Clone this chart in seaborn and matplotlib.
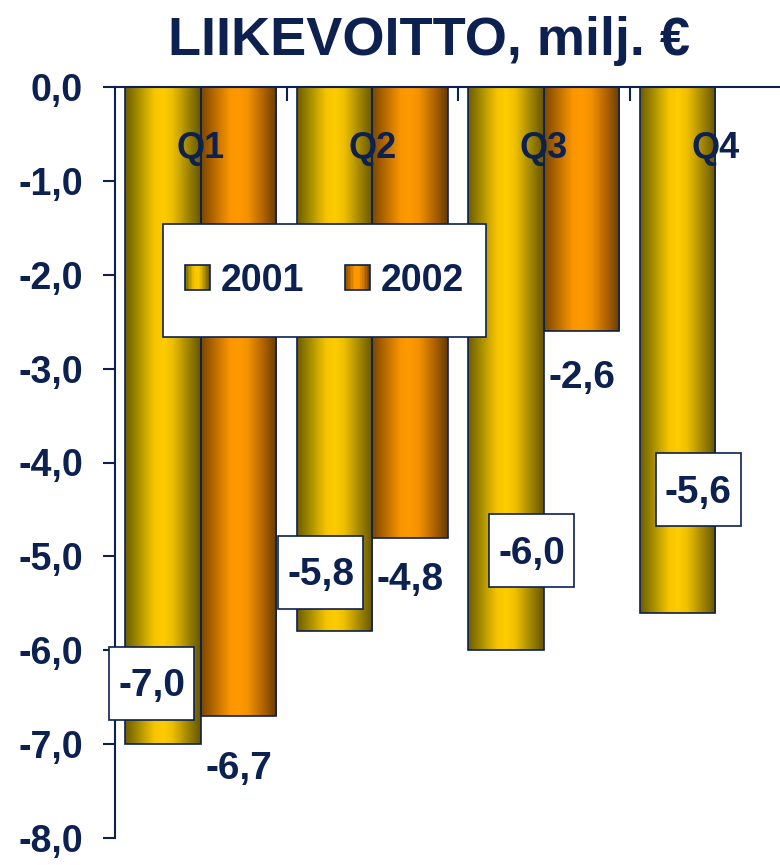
import matplotlib
matplotlib.use("Agg")
import matplotlib.pyplot as plt
from matplotlib.colors import LinearSegmentedColormap
from matplotlib.legend_handler import HandlerBase
from matplotlib.patches import Rectangle, Patch
from matplotlib.ticker import FuncFormatter, FixedLocator
import numpy as np
import pandas as pd
import seaborn as sns


# --------- Data --------- #
QUARTERS = ["Q1", "Q2", "Q3", "Q4"]
YEARS = ["2001", "2002"]
VALUES_2001 = [-7.0, -5.8, -6.0, -5.6]
VALUES_2002 = [-6.7, -4.8, -2.6]          # no Q4 yet
Y_TICKS = [0, -1, -2, -3, -4, -5, -6, -7, -8]
TITLE = "LIIKEVOITTO, milj. €"

# label nudges (layout only): (dx, dy) in data units from bar end
OFFSETS_2001 = [(-0.065, 0.65), (-0.08, 0.63), (0.15, 1.06), (0.12, 1.31)]
OFFSETS_2002 = [(0.0, -0.57), (0.0, -0.45), (0.0, -0.50)]

NAVY = "#0c2150"
CMAP_2001 = LinearSegmentedColormap.from_list("y2001", [
    (0.0, "#6e5e00"), (0.15, "#a08900"), (0.38, "#f5c400"), (0.5, "#ffcc00"),
    (0.62, "#f0c000"), (0.85, "#9c8200"), (1.0, "#685600")])
CMAP_2002 = LinearSegmentedColormap.from_list("y2002", [
    (0.0, "#7a4800"), (0.15, "#b26600"), (0.38, "#fa9600"), (0.5, "#ff9900"),
    (0.62, "#f29200"), (0.85, "#a85e00"), (1.0, "#663e00")])


# --------- Legend handler with gradient squares --------- #
class GradientHandler(HandlerBase):
    def __init__(self, cmap, n=16):
        super().__init__()
        self.cmap = cmap
        self.n = n

    def create_artists(self, legend, orig_handle, xdescent, ydescent, width, height, fontsize, trans):
        artists = []
        side = height
        x0 = -xdescent + (width - side) / 2
        for i in range(self.n):
            artists.append(Rectangle((x0 + i * side / self.n, -ydescent), side / self.n, side,
                                     facecolor=self.cmap((i + 0.5) / self.n), edgecolor="none",
                                     transform=trans))
        artists.append(Rectangle((x0, -ydescent), side, side, facecolor="none",
                                 edgecolor=NAVY, linewidth=1.2, transform=trans))
        return artists


# --------- Plot --------- #
sns.set_theme(style="white")
plt.rcParams["font.family"] = ["Liberation Sans", "DejaVu Sans"]
plt.rcParams["font.weight"] = "bold"

df = pd.DataFrame({
    "quarter": QUARTERS + QUARTERS[:len(VALUES_2002)],
    "year": [YEARS[0]] * len(VALUES_2001) + [YEARS[1]] * len(VALUES_2002),
    "value": VALUES_2001 + VALUES_2002,
})

fig = plt.figure(figsize=(7.8, 8.65), dpi=100)
ax = fig.add_axes([115 / 780, 27 / 865, 665 / 780, 751 / 865])

sns.barplot(data=df, x="quarter", y="value", hue="year", order=QUARTERS, hue_order=YEARS,
            palette=["#ffcc00", "#ff9900"], width=0.88, gap=0, errorbar=None,
            edgecolor=NAVY, linewidth=1.2, legend=False, ax=ax)

# gradient fill inside every bar
grad = np.linspace(0, 1, 64).reshape(1, -1)
for container, cmap in zip(ax.containers, [CMAP_2001, CMAP_2002]):
    for p in container.patches:
        x, y, w, h = p.get_x(), p.get_y(), p.get_width(), p.get_height()
        if np.isnan(h):
            continue
        ax.imshow(grad, cmap=cmap, extent=(x, x + w, y + h, y), aspect="auto",
                  interpolation="bilinear", zorder=p.get_zorder() - 0.01)
        p.set_facecolor("none")

# value labels (2001 in white boxes, 2002 plain)
BOX_W, BOX_H = 85 / 171.5, 73 / 93.9
for p, val, (dx, dy) in zip(ax.containers[0].patches, VALUES_2001, OFFSETS_2001):
    cx = p.get_x() + p.get_width() / 2 + dx
    cy = val + dy
    ax.add_patch(Rectangle((cx - BOX_W / 2, cy - BOX_H / 2), BOX_W, BOX_H, facecolor="white",
                           edgecolor=NAVY, linewidth=1.2, zorder=5, clip_on=False))
    ax.text(cx, cy - 0.03, f"{val:.1f}".replace(".", ","), ha="center", va="center",
            fontsize=28, fontweight="bold", color=NAVY, zorder=6)
for p, val, (dx, dy) in zip(ax.containers[1].patches, VALUES_2002, OFFSETS_2002):
    cx = p.get_x() + p.get_width() / 2
    ax.text(cx + dx, val + dy, f"{val:.1f}".replace(".", ","), ha="center", va="center",
            fontsize=28, fontweight="bold", color=NAVY, zorder=6)

# quarter names inside the bars
for i, q in enumerate(QUARTERS):
    ax.text(i, -0.65, q, ha="center", va="center", fontsize=26, fontweight="bold", color=NAVY, zorder=6)

# axes
ax.set_xlim(-0.5, -0.5 + 665 / 171.5)
ax.set_ylim(-8, 0)
ax.set_xlabel("")
ax.set_ylabel("")
ax.yaxis.set_major_locator(FixedLocator(Y_TICKS))
ax.yaxis.set_major_formatter(FuncFormatter(lambda v, _: f"{v:.1f}".replace(".", ",")))
ax.tick_params(axis="y", direction="out", length=9, width=1.5, color=NAVY, pad=14,
               labelsize=27, labelcolor=NAVY, left=True)
for lab in ax.get_yticklabels():
    lab.set_fontweight("bold")
ax.xaxis.tick_top()
ax.set_xticks([0.5, 1.5, 2.5])
ax.set_xticklabels([])
ax.tick_params(axis="x", direction="in", length=10, width=1.5, color=NAVY, top=True, bottom=False)
for side in ["bottom", "right"]:
    ax.spines[side].set_visible(False)
for side in ["top", "left"]:
    ax.spines[side].set_color(NAVY)
    ax.spines[side].set_linewidth(1.5)
ax.spines["top"].set_zorder(7)

# legend: white box plus frameless legend on top
box = Rectangle((48 / 665, 1 - 250 / 751), 323 / 665, 113 / 751, transform=ax.transAxes,
                facecolor="white", edgecolor=NAVY, linewidth=1.2, zorder=8)
ax.add_patch(box)
h1, h2 = Patch(label=YEARS[0]), Patch(label=YEARS[1])
leg = ax.legend(handles=[h1, h2], ncol=2, loc="center", bbox_to_anchor=(0.315, 0.742),
                frameon=False, prop={"size": 27, "weight": "bold"},
                handlelength=0.65, handleheight=0.65, handletextpad=0.3, columnspacing=1.1,
                handler_map={h1: GradientHandler(CMAP_2001), h2: GradientHandler(CMAP_2002)})
leg.set_zorder(9)
for t in leg.get_texts():
    t.set_color(NAVY)

fig.text(0.55, 0.953, TITLE, ha="center", va="center", fontsize=39, fontweight="bold", color=NAVY)

fig.savefig("out.png", dpi=100)
